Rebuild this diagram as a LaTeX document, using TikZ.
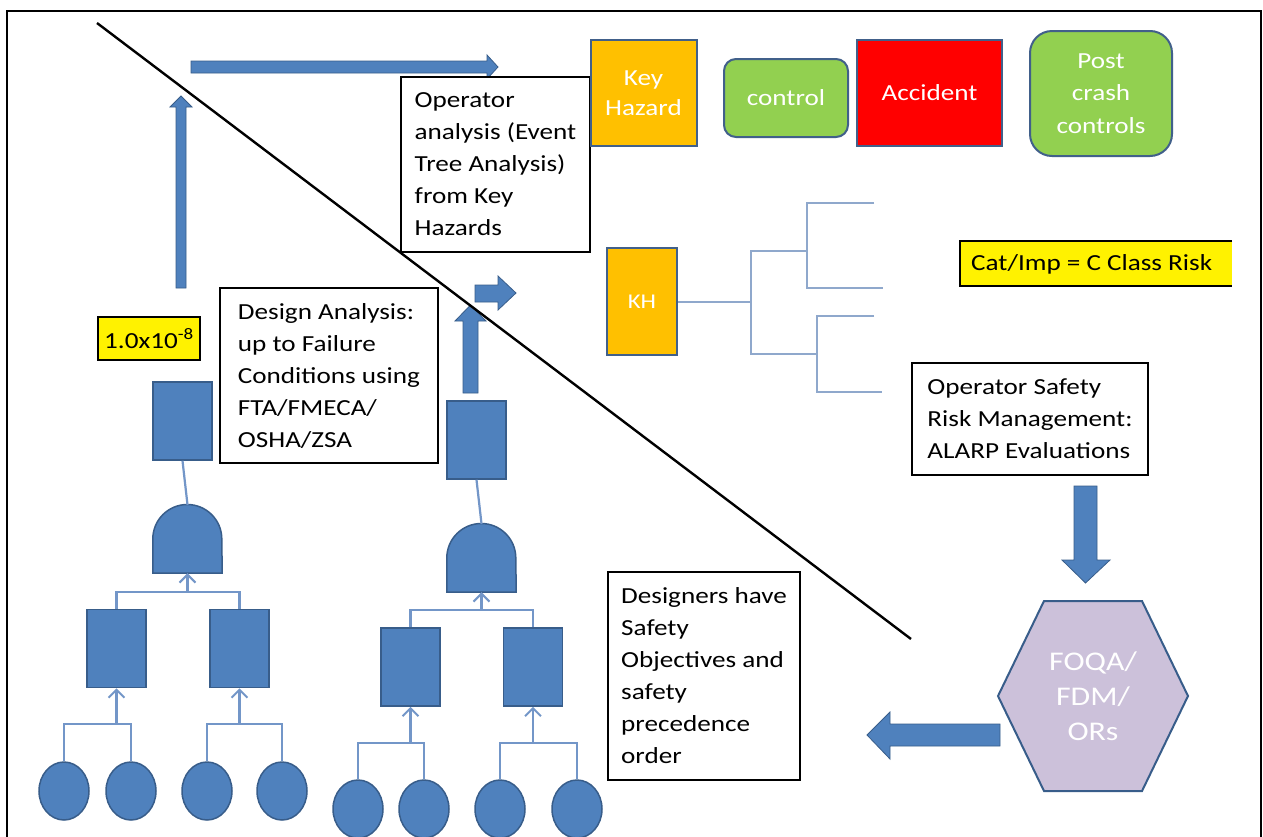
\documentclass[tikz,border=0pt]{standalone}
\usepackage{fontspec}
\setmainfont{Carlito}[FakeStretch=1.18]
\usetikzlibrary{arrows.meta,shapes.geometric}
\definecolor{fblue}{HTML}{4F81BD}
\definecolor{dblue}{HTML}{385D8A}
\definecolor{lblue}{HTML}{7396C8}
\definecolor{tblue}{HTML}{8FA8CC}
\definecolor{korange}{HTML}{FFC000}
\definecolor{kgreen}{HTML}{92D050}
\definecolor{kpurple}{HTML}{CCC1DA}
\definecolor{kborder}{HTML}{41608A}
\begin{document}
\begin{tikzpicture}[x=1pt,y=-1pt,
  txt/.style={font=\fontsize{23}{32}\selectfont, align=left},
  tbox/.style={draw=black, line width=1.6pt, fill=white, txt, inner sep=0pt},
  ybox/.style={draw=black, line width=1.6pt, fill=yellow, font=\fontsize{23}{28}\selectfont, inner sep=0pt},
  shp/.style={draw=kborder, line width=2pt, text=white, align=center, inner sep=0pt, font=\fontsize{23}{30}\selectfont},
  barrow/.style={fill=fblue, draw=dblue, line width=0.8pt},
  ftrect/.style={draw=dblue, fill=fblue, line width=1.5pt, minimum width=59pt, minimum height=78pt, inner sep=0pt},
  ftell/.style={ellipse, draw=dblue, fill=fblue, line width=1.5pt, minimum width=50pt, minimum height=58pt, inner sep=0pt},
  ftgate/.style={minimum width=69pt, minimum height=68pt, inner sep=0pt},
  gatefill/.style={draw=dblue, fill=fblue, line width=1.5pt},
  ftline/.style={draw=lblue, line width=2.2pt},
  ftarr/.style={ftline, -{Straight Barb[length=8pt, width=16pt, line width=2pt]}},
  etline/.style={draw=tblue, line width=2pt}
]
\useasboundingbox (0,0) rectangle (1263,836);
\fill[white] (0,0) rectangle (1263,836);

% frame
\draw[line width=2.4pt] (7,845) -- (7,11) -- (1261,11) -- (1261,845);

% block arrows
\filldraw[barrow] (191,61) -- (487,61) -- (487,55) -- (498,67) -- (487,79) -- (487,73) -- (191,73) -- cycle;
\filldraw[barrow] (176,288) -- (176,107) -- (170,107) -- (181,96) -- (192,107) -- (186,107) -- (186,288) -- cycle;
\filldraw[barrow] (463,393) -- (463,321) -- (455,321) -- (470.5,305) -- (486,321) -- (478,321) -- (478,393) -- cycle;
\filldraw[barrow] (475,285) -- (498,285) -- (498,276) -- (516,293) -- (498,310) -- (498,302) -- (475,302) -- cycle;
\filldraw[barrow] (1074,486) -- (1097,486) -- (1097,560) -- (1110,560) -- (1085.5,583) -- (1062,560) -- (1074,560) -- cycle;
\filldraw[barrow] (1000,724) -- (890,724) -- (890,712) -- (867,735) -- (890,759) -- (890,746) -- (1000,746) -- cycle;

% top row shapes
\node[tbox, minimum width=189pt, minimum height=175pt] (opa) at (495.5,164.5) {Operator\\analysis (Event\\Tree Analysis)\\from Key\\Hazards};
\node[shp, fill=korange, minimum width=106pt, minimum height=106pt] (kh) at (643.5,93) {Key\\Hazard};
\node[shp, fill=kgreen, rounded corners=12pt, minimum width=124pt, minimum height=78pt] (ctl) at (786,98) {control};
\node[shp, fill=red, minimum width=145pt, minimum height=106pt] (acc) at (929.5,93) {Accident};
\node[shp, fill=kgreen, rounded corners=22pt, minimum width=142pt, minimum height=125pt, font=\fontsize{23}{32.5}\selectfont] (pcc) at (1101,93.5) {Post\\crash\\controls};

% event tree
\node[shp, fill=korange, minimum width=70pt, minimum height=107pt, font=\fontsize{21}{25}\selectfont] (kh2) at (642,301.5) {KH};
\coordinate (ea) at (751,301.5);
\draw[etline] (kh2.east) -- (ea);
\draw[etline] (807,251) -- (751,251) -- (751,354) -- (817,354);
\draw[etline] (874,203) -- (807,203) -- (807,288) -- (883,288);
\draw[etline] (874,316) -- (817,316) -- (817,392) -- (882,392);

% class risk box
\fill[yellow] (960,241) rectangle (1232,286);
\draw[line width=1.6pt] (1232,241) -- (960,241) -- (960,286) -- (1232,286);
\node[txt, anchor=west, inner sep=0pt] (cat) at (971,264) {Cat/Imp = C Class Risk};

\node[tbox, minimum width=236pt, minimum height=112pt] (osr) at (1030,419) {Operator Safety\\Risk Management:\\ALARP Evaluations};

% hexagon
\coordinate (hx) at (1093,696);
\filldraw[fill=kpurple, draw=dblue, line width=2pt] (1044,601) -- (1142,601) -- (1188,696) -- (1142,791) -- (1044,791) -- (998,696) -- cycle;
\node[text=white, align=center, font=\fontsize{27}{35}\selectfont] (hxt) at (hx) {FOQA/\\FDM/\\ORs};

% designers box
\node[tbox, minimum width=192pt, minimum height=208pt] (des) at (704,676) {Designers have\\Safety\\Objectives and\\safety\\precedence\\order};

% design analysis box
\node[tbox, minimum width=218pt, minimum height=175pt] (dan) at (329,375.5) {Design Analysis:\\up to Failure\\Conditions using\\FTA/FMECA/\\OSHA/ZSA};

% probability box
\node[ybox, minimum width=102pt, minimum height=43pt] (prob) at (149,338.5) {1.0x10\textsuperscript{-8}};

% fault tree 1
\node[ftrect] (t1) at (182.5,421) {};
\node[ftgate] (g1) at (187.5,539) {};
\filldraw[gatefill] (g1.south west) -- (g1.west) arc[start angle=180, end angle=0, radius=34.5pt] -- (g1.south east) -- cycle;
\node[ftrect] (c1a) at (116.5,648.5) {};
\node[ftrect] (c1b) at (239.5,648.5) {};
\node[ftell] (e1) at (64,791) {};
\node[ftell] (e2) at (131,791) {};
\node[ftell] (e3) at (207,791) {};
\node[ftell] (e4) at (282,791) {};
\coordinate (j1) at (187.5,592);
\coordinate (j1a) at (116.5,724);
\coordinate (j1b) at (239.5,724);
\draw[ftline] (t1.south) -- (g1.north);
\draw[ftline] (c1a.north) |- (j1) -| (c1b.north);
\draw[ftarr] (j1) -- (g1.south);
\draw[ftline] (e1.north) |- (j1a) -| (e2.north);
\draw[ftarr] (j1a) -- (c1a.south);
\draw[ftline] (e3.north) |- (j1b) -| (e4.north);
\draw[ftarr] (j1b) -- (c1b.south);

% fault tree 2
\node[ftrect] (t2) at (476.5,440) {};
\node[ftgate] (g2) at (481.5,558) {};
\filldraw[gatefill] (g2.south west) -- (g2.west) arc[start angle=180, end angle=0, radius=34.5pt] -- (g2.south east) -- cycle;
\node[ftrect] (c2a) at (410.5,667) {};
\node[ftrect] (c2b) at (533,667) {};
\node[ftell] (f1) at (358,809) {};
\node[ftell] (f2) at (424,809) {};
\node[ftell] (f3) at (500,809) {};
\node[ftell] (f4) at (577,809) {};
\coordinate (j2) at (481.5,610);
\coordinate (j2a) at (410.5,743);
\coordinate (j2b) at (533,743);
\draw[ftline] (t2.south) -- (g2.north);
\draw[ftline] (c2a.north) |- (j2) -| (c2b.north);
\draw[ftarr] (j2) -- (g2.south);
\draw[ftline] (f1.north) |- (j2a) -| (f2.north);
\draw[ftarr] (j2a) -- (c2a.south);
\draw[ftline] (f3.north) |- (j2b) -| (f4.north);
\draw[ftarr] (j2b) -- (c2b.south);

% diagonal
\draw[line width=2.4pt] (97,23) -- (911,639);
\end{tikzpicture}
\end{document}
